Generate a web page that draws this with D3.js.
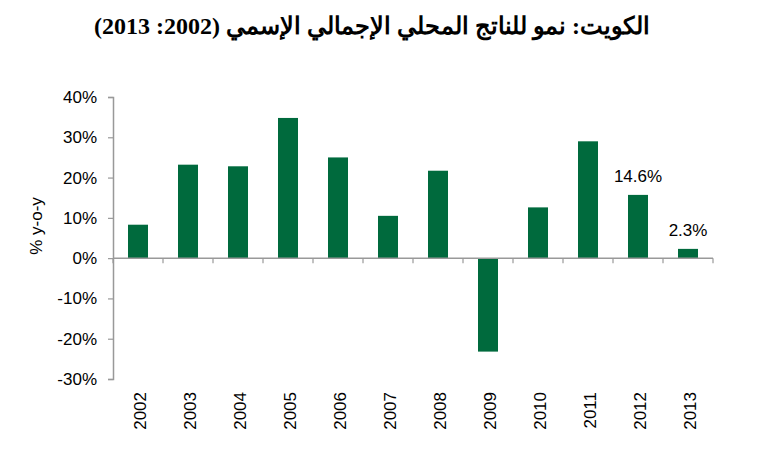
<!DOCTYPE html>
<html>
<head>
<meta charset="utf-8">
<title>Kuwait nominal GDP growth</title>
<script src="https://cdn.jsdelivr.net/npm/d3@7"></script>
<style>
  body { margin: 0; background: #ffffff; }
</style>
</head>
<body>
<script>
// Data
var years = ["2002", "2003", "2004", "2005", "2006", "2007", "2008", "2009", "2010", "2011", "2012", "2013"];
var growth = [8.3, 23.2, 22.8, 34.8, 25.0, 10.5, 21.7, -23.2, 12.6, 29.0, 15.7, 2.3];
var barLabels = ["", "", "", "", "", "", "", "", "", "", "14.6%", "2.3%"];
var yTicks = [-30, -20, -10, 0, 10, 20, 30, 40];
var chartTitle = "الكويت: نمو للناتج المحلي الإجمالي الإسمي (2002: 2013)";
var yTitle = "% y-o-y";

window.onload = function() {
  var w = 768;
  var h = 450;
  var left = 113, right = 713, top = 97, bottom = 379;
  var font = "Arial, 'Liberation Sans', sans-serif";

  var svg = d3.select("body").append("svg").attr("width", w).attr("height", h);

  // Scales
  var xScale = d3.scaleBand().domain(years).range([left, right])
                 .paddingInner(0.6).paddingOuter(0.3);
  var yScale = d3.scaleLinear().domain([-30, 40]).range([bottom, top]);

  // Title
  svg.append("text")
     .attr("x", 372).attr("y", 34)
     .attr("text-anchor", "middle")
     .attr("direction", "rtl")
     .style("font-family", "'Times New Roman', 'Liberation Serif', 'DejaVu Serif', serif")
     .style("font-weight", "bold").style("font-size", "24px")
     .text(chartTitle);

  // Y axis
  var yAxis = d3.axisLeft(yScale).tickValues(yTicks).tickSize(5).tickPadding(11)
                .tickFormat(function(d) { return d + "%"; });
  var gy = svg.append("g").attr("transform", "translate(" + left + ",0)").call(yAxis);
  gy.select(".domain").attr("stroke", "#999").attr("stroke-width", 1.5);
  gy.selectAll(".tick line").attr("stroke", "#999").attr("stroke-width", 1.2);
  gy.selectAll(".tick text").attr("fill", "#000")
    .style("font-family", font).style("font-size", "17px");

  // Bars
  svg.selectAll("rect.bar").data(growth).enter().append("rect")
     .attr("class", "bar")
     .attr("x", function(d, i) { return xScale(years[i]); })
     .attr("y", function(d) { return yScale(Math.max(d, 0)); })
     .attr("width", xScale.bandwidth())
     .attr("height", function(d) { return Math.abs(yScale(d) - yScale(0)); })
     .attr("fill", "#006a3d");

  // Zero line with ticks between categories
  var boundaries = d3.range(years.length + 1).map(function(i) { return left + i * xScale.step(); });
  svg.append("line")
     .attr("x1", left).attr("x2", right)
     .attr("y1", yScale(0)).attr("y2", yScale(0))
     .attr("stroke", "#999").attr("stroke-width", 1.5);
  svg.selectAll("line.xtick").data(boundaries).enter().append("line")
     .attr("class", "xtick")
     .attr("x1", function(d) { return d; }).attr("x2", function(d) { return d; })
     .attr("y1", yScale(0)).attr("y2", yScale(0) + 5)
     .attr("stroke", "#999").attr("stroke-width", 1.2);

  // Year labels at the bottom, rotated
  svg.selectAll("text.year").data(years).enter().append("text")
     .attr("class", "year")
     .attr("transform", function(d) {
       return "translate(" + (xScale(d) + xScale.bandwidth() / 2 + 7.5) + "," + (bottom + 13) + ") rotate(-90)";
     })
     .attr("text-anchor", "end")
     .style("font-family", font).style("font-size", "17px")
     .text(function(d) { return d; });

  // Value labels
  svg.selectAll("text.vlabel").data(growth).enter().append("text")
     .attr("class", "vlabel")
     .attr("x", function(d, i) { return xScale(years[i]) + xScale.bandwidth() / 2; })
     .attr("y", function(d) { return yScale(d) - 13; })
     .attr("text-anchor", "middle")
     .style("font-family", font).style("font-size", "17px")
     .text(function(d, i) { return barLabels[i]; });

  // Y axis title
  svg.append("text")
     .attr("transform", "translate(42,226) rotate(-90)")
     .attr("text-anchor", "middle")
     .style("font-family", font).style("font-size", "17px")
     .text(yTitle);
};
</script>
</body>
</html>
